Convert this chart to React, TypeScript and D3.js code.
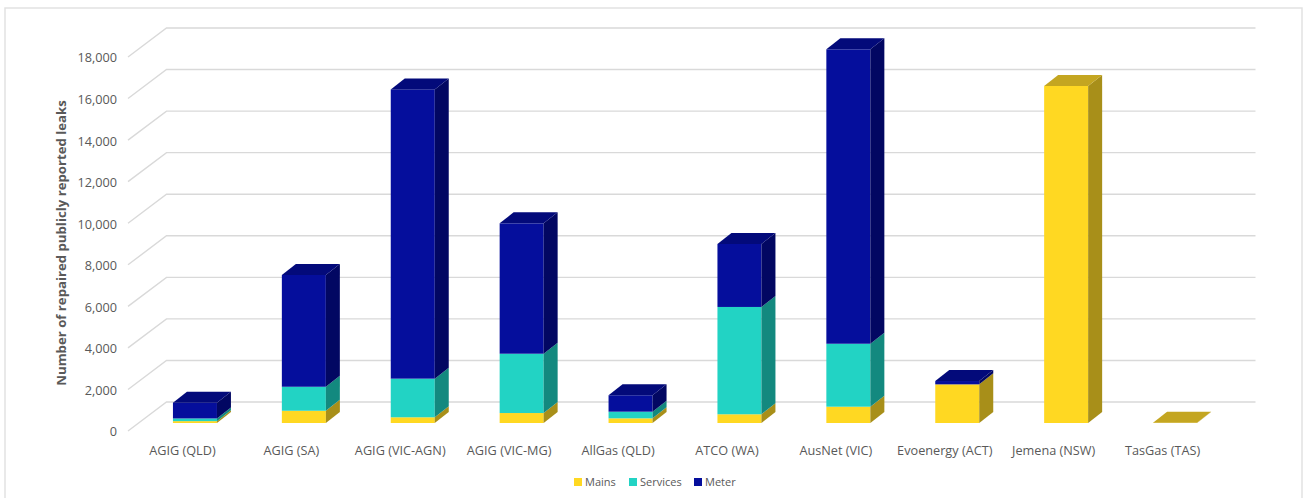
import React from 'react';
import * as d3 from 'd3';

const categories = [
  'AGIG (QLD)', 'AGIG (SA)', 'AGIG (VIC-AGN)', 'AGIG (VIC-MG)', 'AllGas (QLD)',
  'ATCO (WA)', 'AusNet (VIC)', 'Evoenergy (ACT)', 'Jemena (NSW)', 'TasGas (TAS)',
];
const mains = [90, 590, 275, 480, 225, 420, 785, 1860, 16220, 15];
const services = [130, 1155, 1860, 2855, 320, 5165, 3030, 0, 0, 0];
const meter = [760, 5380, 13920, 6275, 790, 3030, 14170, 160, 0, 0];
const yTicks = [0, 2000, 4000, 6000, 8000, 10000, 12000, 14000, 16000, 18000];

const seriesNames = ['Mains', 'Services', 'Meter'];
const palette = [
  { front: '#FFD822', side: '#A88F19', top: '#C4A621' },
  { front: '#22D3C4', side: '#13897F', top: '#1AAEA2' },
  { front: '#050E9C', side: '#020762', top: '#030A7A' },
];

const W = 1303;
const H = 498;
const FONT = '"Open Sans", sans-serif';
const TEXT = '#595959';

// oblique projection of the back wall and the bars
const WALL_DX = 38.5;
const WALL_DY = 29;
const BAR_DX = 12.5;
const BAR_DY = 8;
const DEPTH_DX = 14;
const DEPTH_DY = 11;

export default function App() {
  const x = d3.scaleBand<string>().domain(categories).range([128, 1217]).paddingInner(0.596).paddingOuter(0.298);
  const y = d3.scaleLinear().domain([0, 18000]).range([431, 57]);

  const stacked = d3.stack<number>().keys(['0', '1', '2']).value((i, k) => [mains, services, meter][+k][i])(
    categories.map((_, i) => i)
  );

  const pts = (p: number[][]) => p.map((q) => q.join(',')).join(' ');

  return (
    <svg width={W} height={H} style={{ position: 'absolute', left: 0, top: 0, background: '#fff' }} fontFamily={FONT}>
      <rect x={5} y={8} width={1297} height={500} fill="#fff" stroke="#e2e2e2" strokeWidth={1.5} />

      {/* gridlines: side wall diagonal + back wall */}
      <g stroke="#d9d9d9" strokeWidth={1.4} fill="none">
        {yTicks.map((t) => (
          <polyline
            key={t}
            points={pts([
              [128, y(t)],
              [128 + WALL_DX, y(t) - WALL_DY],
              [1217 + WALL_DX, y(t) - WALL_DY],
            ])}
          />
        ))}
      </g>

      {/* y tick labels */}
      {yTicks.map((t) => (
        <text key={t} x={117} y={y(t) + 1} dy="0.35em" textAnchor="end" fontSize={12.7} fill={TEXT}>
          {d3.format(',')(t)}
        </text>
      ))}

      <text
        transform={`translate(66,243) rotate(-90)`}
        textAnchor="middle"
        fontSize={13.2}
        fontWeight="bold"
        fill={TEXT}
      >
        Number of repaired publicly reported leaks
      </text>

      {/* bars */}
      {categories.map((c, i) => {
        const x0 = (x(c) as number) + BAR_DX;
        const x1 = x0 + x.bandwidth();
        const segs = stacked.map((s, k) => ({ k, lo: s[i][0], hi: s[i][1] }));
        const topIdx = segs.filter((s) => s.hi > s.lo).map((s) => s.k).pop() ?? 0;
        return (
          <g key={c}>
            {segs.map(({ k, lo, hi }) => {
              if (hi <= lo) return null;
              const yb = y(lo) - BAR_DY;
              const yt = y(hi) - BAR_DY;
              const col = palette[k];
              return (
                <g key={k}>
                  <rect x={x0} y={yt} width={x1 - x0} height={yb - yt} fill={col.front} />
                  <polygon
                    points={pts([
                      [x1, yb],
                      [x1, yt],
                      [x1 + DEPTH_DX, yt - DEPTH_DY],
                      [x1 + DEPTH_DX, yb - DEPTH_DY],
                    ])}
                    fill={col.side}
                  />
                  {k === topIdx && (
                    <polygon
                      points={pts([
                        [x0, yt],
                        [x1, yt],
                        [x1 + DEPTH_DX, yt - DEPTH_DY],
                        [x0 + DEPTH_DX, yt - DEPTH_DY],
                      ])}
                      fill={col.top}
                    />
                  )}
                </g>
              );
            })}
          </g>
        );
      })}

      {/* category labels */}
      {categories.map((c) => (
        <text
          key={c}
          x={(x(c) as number) + x.bandwidth() / 2}
          y={451}
          dy="0.35em"
          textAnchor="middle"
          fontSize={12.7}
          fill={TEXT}
        >
          {c}
        </text>
      ))}

      {/* legend */}
      {seriesNames.map((n, k) => {
        const lx = [574, 629, 694][k];
        return (
          <g key={n}>
            <rect x={lx} y={478} width={8} height={8} fill={palette[k].front} />
            <text x={lx + 11} y={482} dy="0.35em" fontSize={11} fill={TEXT}>
              {n}
            </text>
          </g>
        );
      })}
    </svg>
  );
}
